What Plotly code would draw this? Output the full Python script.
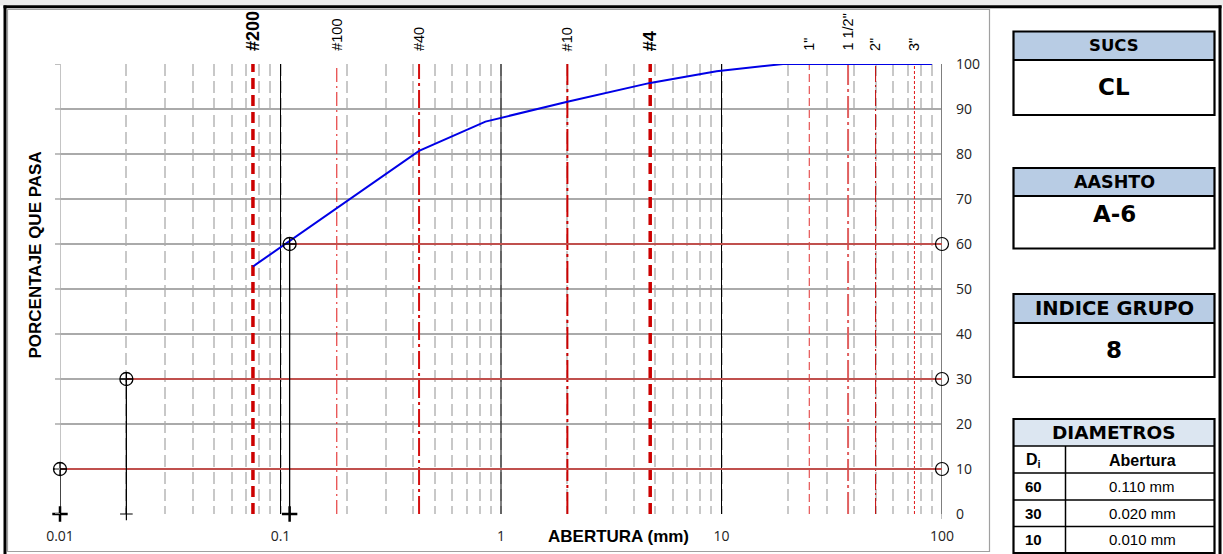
import math
import plotly.graph_objects as go

# ---------------- data ----------------
sizes_mm = [0.075, 0.425, 0.85, 2.0, 4.75, 9.5, 19.0, 25.0, 37.5, 50.0, 75.0, 90.0]
passing_pct = [55.0, 80.7, 87.2, 91.6, 95.8, 98.4, 100.0, 100.0, 100.0, 100.0, 100.0, 100.0]

sieve_labels = ["#200", "#100", "#40", "#10", "#4", '1"', '1 1/2"', '2"', '3"']
sieve_mm = [0.075, 0.18, 0.425, 2.0, 4.75, 25.0, 37.5, 50.0, 75.0]

d_pct = [60, 30, 10]
d_mm = [0.110, 0.020, 0.010]
d_text = ["0.110 mm", "0.020 mm", "0.010 mm"]

x_tick_vals = [0.01, 0.1, 1, 10, 100]
x_tick_text = ["0.01", "0.1", "1", "10", "100"]
y_tick_vals = [0, 10, 20, 30, 40, 50, 60, 70, 80, 90, 100]

sucs_class = "CL"
aashto_class = "A-6"
group_index = "8"

# ---------------- styles ----------------
W_FIG, H_FIG = 1223, 554
L, T, W, H = 60, 64, 882, 450


def PX(x):
    return (x - L) / W


def PY(y):
    return (T + H - y) / H


sieve_style = {
    "#200": dict(color="#cc0000", width=3.5, dash="11px,6px"),
    "#100": dict(color="#e01818", width=1, dash="14px,4px,2px,4px"),
    "#40": dict(color="#d41010", width=2, dash="18px,4px,3px,4px"),
    "#10": dict(color="#cc0000", width=2, dash="22px,4px,3px,4px"),
    "#4": dict(color="#cc0000", width=3.5, dash="11px,6px"),
    '1"': dict(color="#e03030", width=1, dash="8px,4px"),
    '1 1/2"': dict(color="#e06060", width=2, dash="22px,4px,3px,4px"),
    '2"': dict(color="#c00000", width=1, dash="16px,3px,2px,3px"),
    '3"': dict(color="#e01818", width=1, dash="3px,2px"),
}
bold_labels = {"#200", "#4"}
HEAVY = "DejaVu Sans"

fig = go.Figure()

# sieve reference lines
for lab, s in zip(sieve_labels, sieve_mm):
    fig.add_trace(go.Scatter(x=[s, s], y=[0, 100], mode="lines",
                             line=sieve_style[lab], hoverinfo="skip", showlegend=False))

# D horizontal red lines
for p, d in zip(d_pct, d_mm):
    fig.add_trace(go.Scatter(x=[d, 100], y=[p, p], mode="lines",
                             line=dict(color="#c0504d", width=2), hoverinfo="skip", showlegend=False))

# grading curve
fig.add_trace(go.Scatter(x=sizes_mm, y=passing_pct, mode="lines",
                         line=dict(color="#0000e6", width=2), showlegend=False))

# D vertical black lines
for p, d in zip(d_pct, d_mm):
    fig.add_trace(go.Scatter(x=[d, d], y=[p, 0], mode="lines", cliponaxis=False,
                             line=dict(color="#000000", width=1.3), hoverinfo="skip", showlegend=False))

# markers
fig.add_trace(go.Scatter(x=d_mm, y=d_pct, mode="markers", cliponaxis=False,
                         marker=dict(symbol="circle-cross-open", size=13, color="#000000",
                                     line=dict(width=1.3, color="#000000")), showlegend=False))
fig.add_trace(go.Scatter(x=[100] * len(d_pct), y=d_pct, mode="markers", cliponaxis=False,
                         marker=dict(symbol="circle-open", size=13, color="#000000",
                                     line=dict(width=1.2, color="#000000")), showlegend=False))
plus_w = [2.5, 1.2, 2.5]
plus_s = [11, 9, 11]
for d, lw, sz in zip(d_mm, plus_w, plus_s):
    fig.add_trace(go.Scatter(x=[d], y=[0], mode="markers", cliponaxis=False,
                             marker=dict(symbol="cross-thin-open", size=sz, color="#000000",
                                         line=dict(width=lw, color="#000000")), showlegend=False))

shapes = []
# major vertical lines
major_colors = {0.01: ("#b0b0b0", 1.5), 0.1: ("#000000", 1), 1: ("#000000", 1), 10: ("#000000", 1),
                100: ("#7f7f7f", 2)}
for v, (c, w) in major_colors.items():
    shapes.append(dict(type="line", xref="x", yref="y", x0=v, x1=v, y0=0, y1=100,
                       line=dict(color=c, width=w), layer="between"))
# left tick extensions of horizontal grid
for yv in y_tick_vals:
    shapes.append(dict(type="line", xref="paper", yref="y", x0=PX(55), x1=0, y0=yv, y1=yv,
                       line=dict(color="#aaaaaa", width=1.5)))
# small tick under x=100
shapes.append(dict(type="line", xref="x", yref="paper", x0=100, x1=100, y0=PY(514), y1=PY(519),
                   line=dict(color="#aaaaaa", width=1.5)))

# frames
shapes.append(dict(type="rect", xref="paper", yref="paper", x0=PX(0), x1=PX(1223), y0=PY(0), y1=PY(5.5),
                   fillcolor="#ececec", line=dict(width=0), layer="below"))
shapes.append(dict(type="rect", xref="paper", yref="paper", x0=PX(7.5), x1=PX(989.5), y0=PY(9.5),
                   y1=PY(551.5), line=dict(color="#a0a0a0", width=1.2)))
shapes.append(dict(type="line", xref="paper", yref="paper", x0=PX(3.5), x1=PX(1221.5), y0=PY(6.7),
                   y1=PY(6.7), line=dict(color="#000000", width=3)))
shapes.append(dict(type="line", xref="paper", yref="paper", x0=PX(5), x1=PX(5), y0=PY(5.5),
                   y1=PY(554), line=dict(color="#000000", width=3)))
shapes.append(dict(type="line", xref="paper", yref="paper", x0=PX(1220), x1=PX(1220), y0=PY(5.5),
                   y1=PY(554), line=dict(color="#000000", width=3)))

annotations = []

# right-side boxes
BX0, BX1 = 1013.5, 1214.5
HEAD_FILL = "#b8cce4"


def box(y_top, y_div, y_bot, title, value, tsize, vsize, head_fill=HEAD_FILL, title_y=None, value_y=None):
    shapes.append(dict(type="rect", xref="paper", yref="paper", x0=PX(BX0), x1=PX(BX1),
                       y0=PY(y_div), y1=PY(y_top), fillcolor=head_fill, line=dict(width=0)))
    shapes.append(dict(type="rect", xref="paper", yref="paper", x0=PX(BX0), x1=PX(BX1),
                       y0=PY(y_bot), y1=PY(y_top), line=dict(color="#000000", width=2.2)))
    shapes.append(dict(type="line", xref="paper", yref="paper", x0=PX(BX0), x1=PX(BX1),
                       y0=PY(y_div), y1=PY(y_div), line=dict(color="#000000", width=2.2)))
    cx = PX((BX0 + BX1) / 2)
    ty = title_y if title_y is not None else (y_top + y_div) / 2
    annotations.append(dict(xref="paper", yref="paper", x=cx, y=PY(ty), text="<b>%s</b>" % title,
                            showarrow=False, xanchor="center", yanchor="middle",
                            font=dict(family=HEAVY, size=tsize, color="#000000")))
    if value is not None:
        vy = value_y if value_y is not None else (y_div + y_bot) / 2
        annotations.append(dict(xref="paper", yref="paper", x=cx, y=PY(vy), text="<b>%s</b>" % value,
                                showarrow=False, xanchor="center", yanchor="middle",
                                font=dict(family=HEAVY, size=vsize, color="#000000")))


box(31.5, 60, 115, "SUCS", sucs_class, 16.5, 23)
box(168, 196, 248.5, "AASHTO", aashto_class, 17.5, 23, value_y=214)
box(294, 323, 377, "INDICE GRUPO", group_index, 19.5, 23, value_y=350)

# DIAMETROS table
rows_y = [419, 446, 473, 500, 526.5, 553]
shapes.append(dict(type="rect", xref="paper", yref="paper", x0=PX(BX0), x1=PX(BX1),
                   y0=PY(rows_y[1]), y1=PY(rows_y[0]), fillcolor="#dce6f1", line=dict(width=0)))
shapes.append(dict(type="rect", xref="paper", yref="paper", x0=PX(BX0), x1=PX(BX1),
                   y0=PY(rows_y[-1]), y1=PY(rows_y[0]), line=dict(color="#000000", width=2.2)))
for ry in rows_y[1:-1]:
    shapes.append(dict(type="line", xref="paper", yref="paper", x0=PX(BX0), x1=PX(BX1),
                       y0=PY(ry), y1=PY(ry), line=dict(color="#000000", width=1.5)))
shapes.append(dict(type="line", xref="paper", yref="paper", x0=PX(1065.5), x1=PX(1065.5),
                   y0=PY(rows_y[-1]), y1=PY(rows_y[1]), line=dict(color="#000000", width=1.5)))
annotations.append(dict(xref="paper", yref="paper", x=PX((BX0 + BX1) / 2), y=PY(432), text="<b>DIAMETROS</b>",
                        showarrow=False, xanchor="center", yanchor="middle",
                        font=dict(family=HEAVY, size=18.5, color="#000000")))
c1x = PX(1033)
c2x = PX(1142)
annotations.append(dict(xref="paper", yref="paper", x=c1x, y=PY(460), text="<b>D<sub>i</sub></b>",
                        showarrow=False, xanchor="center", yanchor="middle",
                        font=dict(family="Liberation Sans", size=16, color="#000000")))
annotations.append(dict(xref="paper", yref="paper", x=c2x, y=PY(460), text="<b>Abertura</b>",
                        showarrow=False, xanchor="center", yanchor="middle",
                        font=dict(family="Liberation Sans", size=16, color="#000000")))
for i, (p, t) in enumerate(zip(d_pct, d_text)):
    yc = (rows_y[i + 2] + rows_y[i + 3]) / 2
    annotations.append(dict(xref="paper", yref="paper", x=c1x, y=PY(yc), text="<b>%d</b>" % p,
                            showarrow=False, xanchor="center", yanchor="middle",
                            font=dict(family="Liberation Sans", size=15, color="#000000")))
    annotations.append(dict(xref="paper", yref="paper", x=c2x, y=PY(yc), text=t,
                            showarrow=False, xanchor="center", yanchor="middle",
                            font=dict(family="Liberation Sans", size=15, color="#000000")))

# sieve labels on top (annotation x on a log axis is given as log10)
for lab, s in zip(sieve_labels, sieve_mm):
    isb = lab in bold_labels
    annotations.append(dict(xref="x", yref="paper", x=math.log10(s), y=PY(53),
                            text=("<b>%s</b>" % lab) if isb else lab,
                            showarrow=False, textangle=-90, xanchor="center", yanchor="bottom",
                            font=dict(family="Liberation Sans", size=18 if isb else 14.5, color="#000000")))

# axis titles
annotations.append(dict(xref="paper", yref="paper", x=PX(35.5), y=PY(255), text="<b>PORCENTAJE QUE PASA</b>",
                        showarrow=False, textangle=-90, xanchor="center", yanchor="middle",
                        font=dict(family="Liberation Sans", size=17, color="#000000")))
annotations.append(dict(xref="paper", yref="paper", x=PX(618), y=PY(536), text="<b>ABERTURA (mm)</b>",
                        showarrow=False, xanchor="center", yanchor="middle",
                        font=dict(family="Liberation Sans", size=17, color="#000000")))

fig.update_layout(
    width=W_FIG, height=H_FIG,
    margin=dict(l=L, r=W_FIG - L - W, t=T, b=H_FIG - T - H, pad=0, autoexpand=False),
    paper_bgcolor="#ffffff", plot_bgcolor="#ffffff",
    showlegend=False,
    shapes=shapes, annotations=annotations,
    xaxis=dict(type="log", range=[-2, 2], tickvals=x_tick_vals, ticktext=x_tick_text,
               showgrid=False, zeroline=False, showline=False, ticks="", automargin=False,
               ticklabelstandoff=12,
               tickfont=dict(family="Open Sans, Liberation Sans", size=14, color="#222222"),
               minor=dict(dtick="D1", showgrid=True, gridcolor="#c8c8c8", gridwidth=1.5,
                          griddash="12px,5px", ticks=""),
               fixedrange=True),
    yaxis=dict(range=[0, 100], tickvals=y_tick_vals, side="right", automargin=False,
               showgrid=True, gridcolor="#aaaaaa", gridwidth=1.5, zeroline=False, showline=False,
               ticks="", ticklabelstandoff=13,
               tickfont=dict(family="Open Sans, Liberation Sans", size=14, color="#222222"),
               fixedrange=True),
)

fig.write_html("out.html", config={"displayModeBar": False},
               post_script="document.body.style.margin='0px';document.body.style.overflow='hidden';")
